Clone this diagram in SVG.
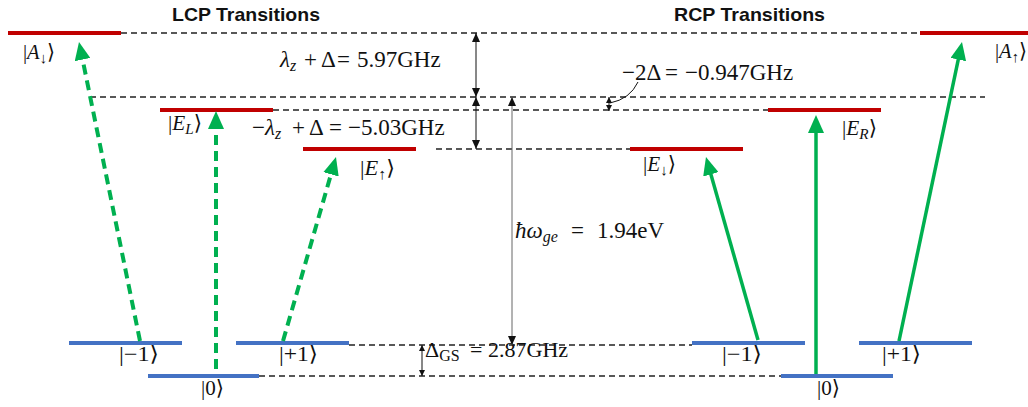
<svg xmlns="http://www.w3.org/2000/svg" width="1028" height="407" viewBox="0 0 1028 407">
<defs>
<style>
.red{stroke:#c00000;stroke-width:4;fill:none}
.blue{stroke:#4472c4;stroke-width:4;fill:none}
.dash{stroke:#222;stroke-width:1.4;stroke-dasharray:6 4;fill:none}
.gd{stroke:#00b050;stroke-width:4;stroke-dasharray:10 6;fill:none;marker-end:url(#gh)}
.gs{stroke:#00b050;stroke-width:3.5;fill:none;marker-end:url(#gh)}
.dim{stroke:#111;stroke-width:1;fill:none;marker-start:url(#bh);marker-end:url(#bh)}
.dims{stroke:#111;stroke-width:1;fill:none;marker-start:url(#bs);marker-end:url(#bs)}
.m{font-family:"Liberation Serif","DejaVu Serif",serif;font-size:21px;fill:#111}
.q{font-size:23px}
.i{font-style:italic}
.s{font-size:15px}
.q .s{font-size:16px}
.t{font-family:"Liberation Sans",Arial,sans-serif;font-weight:bold;font-size:19px;fill:#111}
</style>
<marker id="gh" markerUnits="userSpaceOnUse" markerWidth="18" markerHeight="16" refX="4" refY="8" orient="auto" viewBox="0 0 18 16">
<path d="M0,0 L18,8 L0,16 z" fill="#00b050"/>
</marker>
<marker id="bh" markerUnits="userSpaceOnUse" markerWidth="9" markerHeight="8" refX="9" refY="4" orient="auto-start-reverse" viewBox="0 0 9 8">
<path d="M0,0 L9,4 L0,8 z" fill="#111"/>
</marker>
<marker id="bs" markerUnits="userSpaceOnUse" markerWidth="6" markerHeight="6" refX="6" refY="3" orient="auto-start-reverse" viewBox="0 0 6 6">
<path d="M0,0 L6,3 L0,6 z" fill="#111"/>
</marker>
</defs>

<text class="t" x="172" y="21" textLength="148" lengthAdjust="spacingAndGlyphs">LCP Transitions</text>
<text class="t" x="674" y="21" textLength="151" lengthAdjust="spacingAndGlyphs">RCP Transitions</text>

<g id="guides">
<path class="dash" d="M121,33 H920"/>
<path class="dash" d="M90,97 H985"/>
<path class="dash" d="M273,110 H768"/>
<path class="dash" d="M436,149 H630"/>
<path class="dash" d="M349,345 H692"/>
<path class="dash" d="M259,376 H781"/>
</g>

<g id="A_down"><path class="red" d="M8,33 H121"/><text class="m" x="23" y="59" textLength="32" lengthAdjust="spacingAndGlyphs">|<tspan class="i">A</tspan><tspan class="s" dy="4">↓</tspan><tspan dy="-4">⟩</tspan></text></g>
<g id="E_L"><path class="red" d="M160,110 H273"/><text class="m" x="168" y="130" textLength="34" lengthAdjust="spacingAndGlyphs">|<tspan class="i">E</tspan><tspan class="i s" dy="4">L</tspan><tspan dy="-4">⟩</tspan></text></g>
<g id="E_up"><path class="red" d="M303,149 H416"/><text class="m" x="360" y="175" textLength="35" lengthAdjust="spacingAndGlyphs">|<tspan class="i">E</tspan><tspan class="s" dy="4">↑</tspan><tspan dy="-4">⟩</tspan></text></g>
<g id="E_down"><path class="red" d="M630,149 H743"/><text class="m" x="643" y="171" textLength="33" lengthAdjust="spacingAndGlyphs">|<tspan class="i">E</tspan><tspan class="s" dy="4">↓</tspan><tspan dy="-4">⟩</tspan></text></g>
<g id="E_R"><path class="red" d="M768,110 H881"/><text class="m" x="842" y="135" textLength="35" lengthAdjust="spacingAndGlyphs">|<tspan class="i">E</tspan><tspan class="i s" dy="4">R</tspan><tspan dy="-4">⟩</tspan></text></g>
<g id="A_up"><path class="red" d="M920,33 H1028"/><text class="m" x="995" y="58" textLength="32" lengthAdjust="spacingAndGlyphs">|<tspan class="i">A</tspan><tspan class="s" dy="4">↑</tspan><tspan dy="-4">⟩</tspan></text></g>

<g id="L_m1"><path class="blue" d="M69,343 H182"/><text class="m" x="119" y="361" textLength="40" lengthAdjust="spacingAndGlyphs">|−1⟩</text></g>
<g id="L_0"><path class="blue" d="M148,376 H259"/><text class="m" x="201" y="395" textLength="23" lengthAdjust="spacingAndGlyphs">|0⟩</text></g>
<g id="L_p1"><path class="blue" d="M236,343 H349"/><text class="m" x="279" y="361" textLength="39" lengthAdjust="spacingAndGlyphs">|+1⟩</text></g>
<g id="R_m1"><path class="blue" d="M692,343 H805"/><text class="m" x="722" y="361" textLength="40" lengthAdjust="spacingAndGlyphs">|−1⟩</text></g>
<g id="R_0"><path class="blue" d="M781,376 H893"/><text class="m" x="817" y="395" textLength="23" lengthAdjust="spacingAndGlyphs">|0⟩</text></g>
<g id="R_p1"><path class="blue" d="M859,343 H972"/><text class="m" x="882" y="361" textLength="39" lengthAdjust="spacingAndGlyphs">|+1⟩</text></g>

<g id="labels">
<text class="m q" y="67"><tspan class="i" x="280">λ</tspan><tspan class="i s" dy="4">z</tspan><tspan x="304" dy="-4">+</tspan><tspan x="321">Δ</tspan><tspan x="337">=</tspan><tspan x="357">5.97GHz</tspan></text>
<text class="m q" y="135"><tspan x="252">−</tspan><tspan class="i" x="265">λ</tspan><tspan class="i s" dy="4">z</tspan><tspan x="292" dy="-4">+</tspan><tspan x="309">Δ</tspan><tspan x="329">=</tspan><tspan x="348">−5.03GHz</tspan></text>
<text class="m q" y="80"><tspan x="622">−2Δ</tspan><tspan x="665">=</tspan><tspan x="685">−0.947GHz</tspan></text>
<text class="m q" y="238"><tspan class="i" x="515">ħω</tspan><tspan class="i s" dy="4">ge</tspan><tspan x="571" dy="-4">=</tspan><tspan x="597">1.94eV</tspan></text>
<text class="m q" y="357" style="font-size:22px"><tspan x="425">Δ</tspan><tspan class="s" dy="4">GS</tspan><tspan x="470" dy="-4">=</tspan><tspan x="488">2.87GHz</tspan></text>
</g>

<g id="connectors">
<path class="gd" d="M140,341 L81.8,55.7"/>
<path class="gd" d="M216,369 L216,125"/>
<path class="gd" d="M283,341 L332.1,170.5"/>
<path class="gs" d="M758,340 L709.8,170.5"/>
<path class="gs" d="M816,374 L816,129"/>
<path class="gs" d="M899,341 L959.1,55.7"/>
<path class="dim" d="M476,33 V97"/>
<path class="dim" d="M476,97 V149"/>
<path class="dim" d="M512,97 V345" style="stroke:#666"/>
<path class="dims" d="M422,345 V376"/>
<path class="dims" d="M609,97 V111"/>
<path d="M610,103 Q630,99 638,82" stroke="#111" stroke-width="1" fill="none"/>
</g>
</svg>
